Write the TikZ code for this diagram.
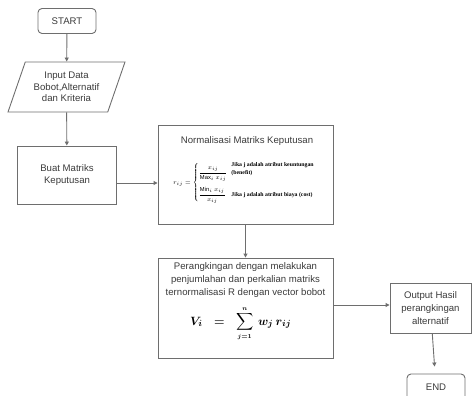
\documentclass[tikz,border=0pt]{standalone}
\usepackage{amsmath}
\usepackage{fontspec}
\setmainfont{Liberation Sans}
\newfontfamily\eqserif{Liberation Serif}
\usetikzlibrary{arrows.meta,shapes.geometric}
\definecolor{linegray}{HTML}{6E6E6E}
\definecolor{textgray}{HTML}{3A3A3A}
\newsavebox{\normeqbox}
\newsavebox{\rankeqbox}

\begin{document}
\sbox{\normeqbox}{\fontsize{5.8}{6.8}\selectfont
	$r_{ij}=\left\{\begin{array}{@{}l@{\hspace{4pt}}l@{}}
		\dfrac{x_{ij}}{\mathrm{Max}_i\ x_{ij}} & \shortstack[l]{\eqserif\bfseries Jika j adalah atribut keuntungan\\\eqserif\bfseries (benefit)}\\[11pt]
		\dfrac{\mathrm{Min}_i\ x_{ij}}{x_{ij}} & \text{\eqserif\bfseries Jika j adalah atribut biaya (cost)}
	\end{array}\right.$}
\sbox{\rankeqbox}{\fontsize{13}{15}\selectfont\mathversion{bold}%
	$\displaystyle V_i \;\;=\;\; \sum_{\scriptscriptstyle j=1}^{\scriptscriptstyle n} \, w_j\, r_{ij}$}
\begin{tikzpicture}[x=1pt, y=-1pt, >={Triangle[length=4pt,width=4pt]},
		font=\fontsize{9.6}{12.6}\selectfont,
		box/.style={draw=linegray, line width=0.9pt, text=textgray, align=center, inner sep=2pt},
		term/.style={box, rounded corners=4pt},
		io/.style={box, trapezium, trapezium left angle=63, trapezium right angle=117, trapezium stretches body},
		flow/.style={->, draw=linegray, line width=0.9pt}]
		\useasboundingbox (0,0) rectangle (472,396);

		% left column
		\node[term, minimum width=58pt, minimum height=25pt] (start) at (67,21) {START};
		\node[io, minimum width=117pt, minimum height=50pt, font=\fontsize{9.6}{11.6}\selectfont] (input) at (66.5,87) {Input Data\\Bobot,Alternatif\\dan Kriteria};
		\node[box, minimum width=99pt, minimum height=58pt] (buat) at (67,175) {Buat Matriks\\Keputusan};

		% normalisasi
		\node[box, minimum width=175pt, minimum height=99pt] (norm) at (245.5,174.5) {};
		\node[text=textgray] (normtitle) at (247,141) {Normalisasi Matriks Keputusan};
		\node[text=textgray] (normeq) at (244,183) {\usebox{\normeqbox}};

		% perangkingan
		\node[box, minimum width=175pt, minimum height=100pt] (rank) at (245.5,308) {};
		\node[text=textgray, align=center, inner sep=0pt] (ranktext) at (245.5,280) {Perangkingan dengan melakukan\\penjumlahan dan perkalian matriks\\ternormalisasi R dengan vector bobot};
		\node[text=textgray, inner sep=0pt, anchor=base west] (rankeq) at (190,325) {\usebox{\rankeqbox}};

		% right column
		\node[box, minimum width=81pt, minimum height=50pt] (output) at (430.5,308) {Output Hasil\\perangkingan\\alternatif};
		\node[term, minimum width=58pt, minimum height=26pt] (end) at (436,387) {END};

		\draw[flow] (start) -- (input);
		\draw[flow] (input) -- (buat);
		\draw[flow] ([yshift=-8pt]buat.east) -- ([yshift=-8pt]buat.east -| norm.west);
		\draw[flow] (norm) -- (rank);
		\draw[flow] ([yshift=3pt]rank.east) -- ([yshift=3pt]output.west);
		\draw[flow, shorten >=7pt] (output) -- (end);
	\end{tikzpicture}
\end{document}
